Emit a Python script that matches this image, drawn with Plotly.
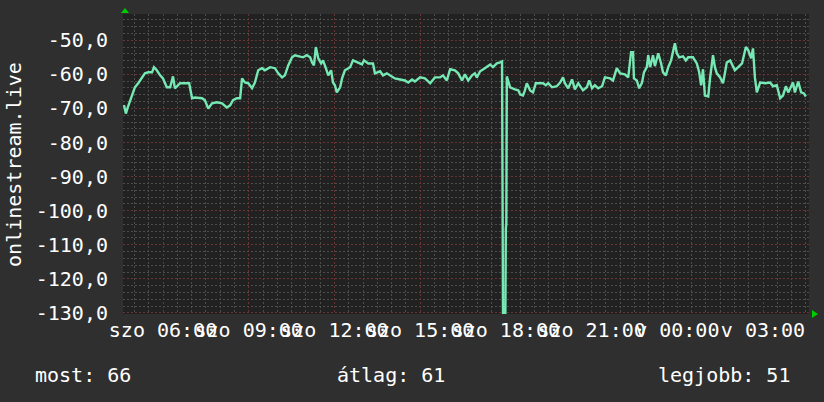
import pandas as pd
import plotly.graph_objects as go

# minutes after Saturday 00:00
minutes = [
    278, 282, 286, 291, 295, 301, 308, 316, 322, 329, 337, 341, 347, 354, 360, 368, 375, 381,
    385, 396, 410, 415, 421, 427, 442, 448, 455, 463, 473, 484, 494, 501, 507, 515, 522, 526,
    532, 539, 547, 553, 560, 568, 574, 585, 595, 602, 610, 616, 623, 631, 637, 648, 654, 662,
    669, 673, 677, 681, 686, 692, 696, 702, 707, 713, 717, 721, 725, 732, 736, 742, 753, 759,
    770, 778, 782, 791, 801, 805, 816, 822, 830, 837, 847, 858, 868, 875, 883, 889, 900, 910,
    921, 931, 942, 948, 956, 963, 973, 980, 988, 994, 1001,
    1009, 1015, 1019, 1026, 1036, 1047, 1053, 1061, 1068, 1072, 1074, 1079, 1080, 1081, 1082,
    1089, 1099, 1106, 1110, 1116, 1120, 1124, 1131, 1137, 1143, 1152, 1158, 1164, 1169, 1177, 1187, 1194, 1200,
    1204, 1211, 1219, 1225, 1232, 1242,
    1250, 1255, 1261, 1267, 1274, 1282, 1288, 1299, 1305, 1313, 1320, 1330, 1337, 1343, 1347, 1349, 1355, 1360,
    1366, 1370, 1376, 1379, 1383, 1389, 1393, 1400, 1406, 1410, 1416, 1421, 1427, 1431, 1435, 1439, 1444, 1452,
    1458, 1463, 1473, 1481, 1486, 1490, 1494, 1498, 1505, 1509, 1515, 1519, 1523, 1530, 1536, 1540, 1544, 1551,
    1557, 1561, 1568, 1576, 1580, 1584, 1589, 1595, 1599, 1603, 1607, 1614, 1624, 1635, 1641, 1649, 1656, 1662,
    1668, 1673, 1683, 1687, 1694, 1700, 1706, 1710,
]

values = [
    -69, -71.5, -69.7, -67.6, -66, -63.8, -62.6, -60.9, -59.7, -59.4, -59.4, -57.9, -58.8, -60.3, -61.2, -63.8, -63.8, -60.6,
    -64.1, -62.6, -62.6, -62.6, -67, -66.8, -67, -67.6, -70, -68.5, -68.2, -68.5, -69.7, -69.1, -67.6, -67, -67, -61.2,
    -62.4, -62.6, -64.1, -62.4, -58.8, -58.2, -58.8, -57.9, -58.2, -59.7, -60.9, -60.3, -57.4, -55, -54.4, -54.7, -55, -54.4,
    -55, -56.5, -57.4, -52, -55.3, -56.8, -55.9, -58.2, -60.3, -58.8, -62.4, -63.2, -65.3, -63.8, -61.2, -58.8, -57.9, -55.9,
    -56.5, -57.1, -55.9, -56.8, -56.8, -59.7, -59.1, -60.3, -59.7, -60.3, -61.2, -61.5, -61.8, -62.4, -61.5, -62.1, -60.9, -61.2,
    -62.6, -60.9, -60.9, -60.3, -61.8, -58.5, -58.8, -59.7, -61.8, -60, -61.8,
    -60.3, -59.7, -60.9, -59.1, -58.2, -57.1, -57.9, -56.8, -56.5, -56.2, -130, -130, -105, -104, -60.6,
    -63.8, -64.4, -64.7, -65.9, -66.2, -64.7, -62.6, -64.7, -65.3, -62.6, -62.6, -62.6, -63.2, -62.6, -63.8, -63.5, -62.4, -60.9,
    -62.6, -64.1, -61.5, -64.4, -62.6, -64.7,
    -63.8, -61.8, -64.1, -63.2, -64.1, -63.5, -60.9, -61.2, -61.8, -58.2, -59.7, -60, -60.9, -53.5, -53.5, -61.2, -61.8, -64.1,
    -62.4, -59.4, -57.9, -54.4, -57.9, -54.4, -57.6, -53.8, -56.8, -59.4, -60.3, -57.9, -55.9, -52.9, -50.9, -53.8, -55, -54.7,
    -55.9, -55, -55, -56.8, -59.4, -63.2, -58.5, -66.2, -66.5, -60.9, -54.4, -57.9, -59.7, -60.9, -62.6, -59.7, -56.5, -55.9,
    -57.4, -58.8, -57.9, -56.8, -54.4, -52, -52.9, -55.3, -52.4, -60.9, -65.3, -62.4, -62.6, -62.4, -63.5, -63.2, -67, -66.2,
    -63.5, -65.3, -62.4, -65.3, -62.1, -65.3, -65.6, -66.5,
]

x_tick_minutes = [360, 540, 720, 900, 1080, 1260, 1440, 1620]
x_tick_labels = ["szo 06:00", "szo 09:00", "szo 12:00", "szo 15:00",
                 "szo 18:00", "szo 21:00", "v 00:00", "v 03:00"]
y_tick_values = [-130, -120, -110, -100, -90, -80, -70, -60, -50]
y_tick_labels = ["-130,0", "-120,0", "-110,0", "-100,0", "-90,0",
                 "-80,0", "-70,0", "-60,0", "-50,0"]
x_range_minutes = [276, 1716.6]
y_title = "onlinestream.live"
summary = ["most: 66", "átlag: 61", "legjobb: 51"]

base = pd.Timestamp("2024-03-02 00:00")
to_time = lambda m: base + pd.to_timedelta(m, unit="m")
times = [to_time(m) for m in minutes]

FONT = "DejaVu Sans Mono"
PAPER = "#2f2f2f"
PLOT = "#212121"
LINE = "#76e8b3"
MAJOR = "#6a3434"
MINOR = "#4c4c4c"

fig = go.Figure()
fig.add_trace(go.Scatter(x=times, y=values, mode="lines",
                         line=dict(color=LINE, width=2.4), hoverinfo="skip"))

fig.update_layout(
    width=824, height=402,
    margin=dict(l=123, r=15, t=14, b=88, autoexpand=False),
    paper_bgcolor=PAPER, plot_bgcolor=PLOT,
    showlegend=False,
    font=dict(family=FONT, size=20, color="#ffffff"),
)

fig.update_xaxes(
    automargin=False,
    range=[to_time(x_range_minutes[0]), to_time(x_range_minutes[1])],
    tickmode="array",
    tickvals=[to_time(m) for m in x_tick_minutes],
    ticktext=x_tick_labels,
    tickangle=0,
    ticks="", ticklabelstandoff=2,
    showgrid=True, gridcolor=MAJOR, griddash="2px,2px", gridwidth=1,
    minor=dict(tickmode="linear", tick0=base, dtick=1800000, showgrid=True,
               gridcolor=MINOR, griddash="2px,2px", gridwidth=1),
    showline=False, zeroline=False,
    tickfont=dict(family=FONT, size=20, color="#ffffff"),
)

fig.update_yaxes(
    automargin=False,
    range=[-130.3, -42.3],
    tickmode="array", tickvals=y_tick_values, ticktext=y_tick_labels,
    ticks="", ticklabelstandoff=14,
    showgrid=True, gridcolor=MAJOR, griddash="2px,2px", gridwidth=1,
    minor=dict(tickmode="linear", tick0=-130, dtick=2, showgrid=True,
               gridcolor=MINOR, griddash="2px,2px", gridwidth=1),
    showline=False, zeroline=False,
    tickfont=dict(family=FONT, size=20, color="#ffffff"),
)

# y-axis title
fig.add_annotation(text=y_title, xref="paper", yref="paper",
                   x=-0.159, y=0.5, xanchor="center", yanchor="middle",
                   textangle=-90, showarrow=False,
                   font=dict(family=FONT, size=20, color="#ffffff"))

# summary line
fig.add_annotation(text=summary[0], xref="paper", yref="paper", x=-0.131, y=-0.203,
                   xanchor="left", yanchor="middle", showarrow=False,
                   font=dict(family=FONT, size=20, color="#ffffff"))
fig.add_annotation(text=summary[1], xref="paper", yref="paper", x=0.309, y=-0.203,
                   xanchor="left", yanchor="middle", showarrow=False,
                   font=dict(family=FONT, size=20, color="#ffffff"))
fig.add_annotation(text=summary[2], xref="paper", yref="paper", x=0.975, y=-0.203,
                   xanchor="right", yanchor="middle", showarrow=False,
                   font=dict(family=FONT, size=20, color="#ffffff"))

# axis arrows
fig.add_shape(type="path", xref="paper", yref="paper", xsizemode="pixel", ysizemode="pixel",
              xanchor=0, yanchor=1, path="M -2,1 L 6,1 L 2,6 Z",
              fillcolor="#00cc00", line=dict(width=0))
fig.add_shape(type="path", xref="paper", yref="paper", xsizemode="pixel", ysizemode="pixel",
              xanchor=1, yanchor=0, path="M 3,-4 L 3,4 L 9,0 Z",
              fillcolor="#00cc00", line=dict(width=0))

fig.write_html(
    "out.html",
    config={"displayModeBar": False},
    post_script="document.body.style.margin='0';document.body.style.background='#2f2f2f';",
)
